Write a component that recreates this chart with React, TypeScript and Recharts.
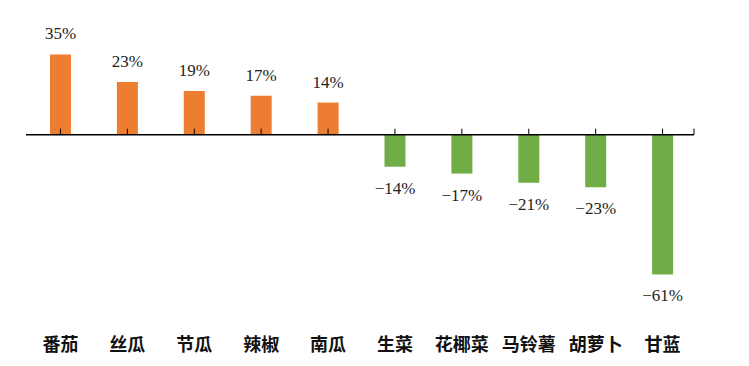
import React from 'react';
import { BarChart, Bar, XAxis, YAxis, ReferenceLine, LabelList, Cell } from 'recharts';

const categories = ['番茄', '丝瓜', '节瓜', '辣椒', '南瓜', '生菜', '花椰菜', '马铃薯', '胡萝卜', '甘蓝'];
const values = [35, 23, 19, 17, 14, -14, -17, -21, -23, -61];

const POS = '#ED7D31';
const NEG = '#70AD47';

const data = categories.map((name, i) => ({ name, value: values[i] }));

const fmt = (v: number) => (v < 0 ? '\u2212' + Math.abs(v) : String(v)) + '%';

const ValueLabel = (props: any) => {
  const { x, y, width, height, value } = props;
  const top = Math.min(y, y + height);
  const bottom = Math.max(y, y + height);
  const cx = x + width / 2;
  const ty = value >= 0 ? top - 15 : bottom + 27;
  return (
    <text x={cx} y={ty} textAnchor="middle" fontFamily="'Liberation Serif', serif" fontSize={17} fill="#222">
      {fmt(value)}
    </text>
  );
};

const CatTick = (props: any) => {
  const { x, y, payload } = props;
  return (
    <text x={x} y={y} dy="0.35em" textAnchor="middle" fontFamily="'Noto Sans CJK SC', sans-serif" fontWeight="bold" fontSize={18} fill="#111">
      {payload.value}
    </text>
  );
};

const ZeroLine = (props: any) => {
  const { x1, y1, x2, y2 } = props;
  return (
    <g>
      <line x1={x1 - 1} y1={y1} x2={x2 - 2} y2={y2} stroke="#000" strokeWidth={1.5} />
      <line x1={x2 - 2} y1={y2} x2={x2 - 2} y2={y2 - 6} stroke="#000" strokeWidth={1} />
    </g>
  );
};

export default function App() {
  return (
    <BarChart width={733} height={352} data={data} margin={{ top: 35, right: 45, bottom: 0, left: 19 }}>
      <YAxis hide domain={[-70, 40]} type="number" />
      <XAxis dataKey="name" axisLine={false} tickLine={false} tickSize={0} tickMargin={50} height={65} interval={0} tick={<CatTick />} />
      <Bar dataKey="value" barSize={21} isAnimationActive={false}>
        {data.map((d, i) => (
          <Cell key={i} fill={d.value >= 0 ? POS : NEG} />
        ))}
        <LabelList dataKey="value" content={<ValueLabel />} />
      </Bar>
      <ReferenceLine y={0} shape={<ZeroLine />} />
      {categories.map((c) => (
        <ReferenceLine key={c} segment={[{ x: c, y: 0 }, { x: c, y: 2.6 }]} stroke="#000" strokeWidth={1} />
      ))}
    </BarChart>
  );
}
